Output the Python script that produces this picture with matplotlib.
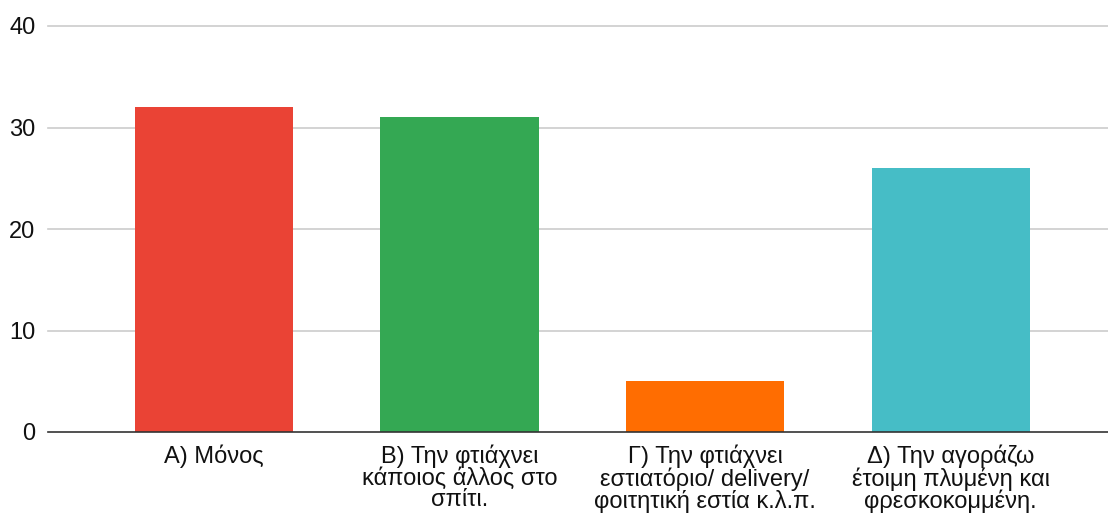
import matplotlib
matplotlib.use("Agg")
import matplotlib.pyplot as plt

# data
categories = ["Α) Μόνος",
              "Β) Την φτιάχνει\nκάποιος άλλος στο\nσπίτι.",
              "Γ) Την φτιάχνει\nεστιατόριο/ delivery/\nφοιτητική εστία κ.λ.π.",
              "Δ) Την αγοράζω\nέτοιμη πλυμένη και\nφρεσκοκομμένη."]
values = [32, 31, 5, 26]
colors = ["#ea4335", "#34a853", "#ff6d01", "#46bdc6"]
yticks = [0, 10, 20, 30, 40]

plt.rcParams['font.family'] = ['Liberation Sans', 'DejaVu Sans']

fig = plt.figure(figsize=(11.08, 5.14), dpi=100)
ax = fig.add_axes([48/1108, 1-432/514, 1-48/1108, (432-26)/514])

x = list(range(len(values)))
ax.bar(x, values, width=0.645, color=colors, zorder=3)

ax.set_xlim(-0.675, 3.64)
ax.set_ylim(0, 40)
ax.set_yticks(yticks)
ax.set_yticklabels([str(t) for t in yticks], fontsize=17, color="#111111")
ax.set_xticks(x)
ax.set_xticklabels(categories, fontsize=17, color="#111111", linespacing=0.95)

# grid
for t in yticks[1:]:
    ax.axhline(t, color="#cccccc", lw=1.2, zorder=1, clip_on=False)

for s in ["top", "right", "left"]:
    ax.spines[s].set_visible(False)
ax.spines["bottom"].set_color("#333333")
ax.spines["bottom"].set_linewidth(1.2)
ax.spines["bottom"].set_zorder(4)
ax.tick_params(axis="both", length=0)
ax.tick_params(axis="y", pad=9)
ax.tick_params(axis="x", pad=9)

fig.savefig("out.png", dpi=100)
